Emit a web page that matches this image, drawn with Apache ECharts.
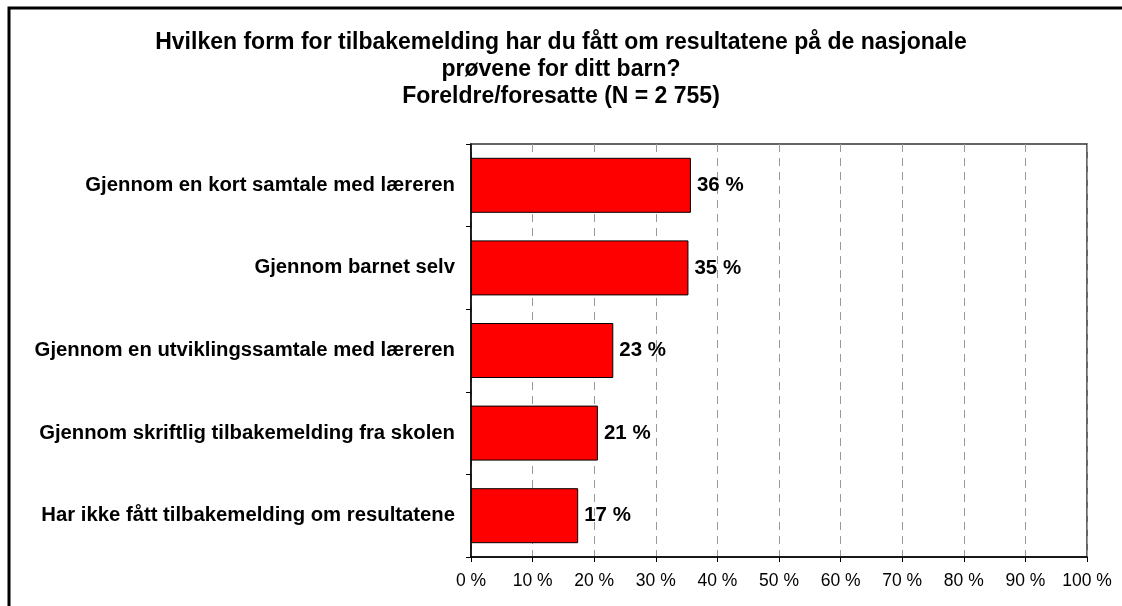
<!DOCTYPE html>
<html>
<head>
<meta charset="utf-8">
<script src="https://cdn.jsdelivr.net/npm/echarts@6/dist/echarts.min.js"></script>
<style>
  html, body { margin: 0; padding: 0; background: #fff; }
  #chart { width: 1122px; height: 606px; }
</style>
</head>
<body>
<div id="chart"></div>
<script>
// Data
const titleLines = [
  'Hvilken form for tilbakemelding har du fått om resultatene på de nasjonale',
  'prøvene for ditt barn?',
  'Foreldre/foresatte (N = 2 755)'
];
const categories = [
  'Gjennom en kort samtale med læreren',
  'Gjennom barnet selv',
  'Gjennom en utviklingssamtale med læreren',
  'Gjennom skriftlig tilbakemelding fra skolen',
  'Har ikke fått tilbakemelding om resultatene'
];
const shares = [35.7, 35.3, 23.1, 20.6, 17.4];

const FONT = 'Liberation Sans, Arial, sans-serif';

const chart = echarts.init(document.getElementById('chart'), null, { renderer: 'canvas' });

chart.setOption({
  animation: false,
  backgroundColor: '#fff',
  textStyle: { fontFamily: FONT },
  title: {
    text: titleLines.join('\n'),
    left: 'center',
    top: 24,
    textStyle: {
      fontFamily: FONT,
      fontSize: 23,
      fontWeight: 'bold',
      color: '#000',
      lineHeight: 27,
      align: 'center'
    }
  },
  graphic: [{
    type: 'rect',
    silent: true,
    shape: { x: 9, y: 8, width: 1300, height: 800 },
    style: { fill: 'none', stroke: '#000', lineWidth: 3 }
  }],
  grid: {
    left: 471,
    right: 35,
    top: 144,
    bottom: 49,
    show: true,
    borderColor: '#333',
    borderWidth: 1.5
  },
  xAxis: {
    type: 'value',
    min: 0,
    max: 100,
    interval: 10,
    axisLine: { show: true, lineStyle: { color: '#000', width: 1.5 } },
    axisTick: { show: true, length: 5, lineStyle: { color: '#000' } },
    axisLabel: {
      formatter: '{value} %',
      color: '#000',
      fontSize: 17.5,
      fontFamily: FONT,
      margin: 15
    },
    splitLine: { show: true, lineStyle: { color: '#999', type: [8, 6], width: 1 } }
  },
  yAxis: {
    type: 'category',
    inverse: true,
    data: categories,
    axisLine: { show: true, lineStyle: { color: '#000', width: 1.5 } },
    axisTick: { show: true, length: 5, lineStyle: { color: '#000' } },
    axisLabel: {
      color: '#000',
      fontSize: 20.3,
      fontWeight: 'bold',
      fontFamily: FONT,
      margin: 16
    },
    splitLine: { show: false }
  },
  series: [{
    type: 'bar',
    data: shares,
    barWidth: 55,
    itemStyle: { color: '#ff0000', borderColor: '#000', borderWidth: 1 },
    label: {
      show: true,
      position: 'right',
      distance: 6,
      color: '#000',
      fontSize: 20.5,
      fontWeight: 'bold',
      fontFamily: FONT,
      formatter: p => Math.round(p.value) + ' %'
    }
  }]
});
</script>
</body>
</html>
